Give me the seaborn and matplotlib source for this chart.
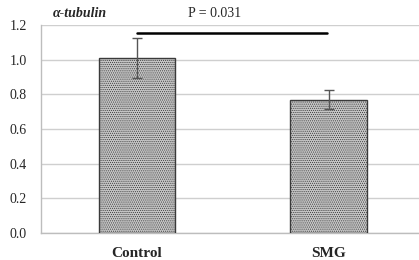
import matplotlib
matplotlib.use('Agg')
import matplotlib.pyplot as plt
import seaborn as sns
import pandas as pd

# Werte
gruppen = ["Control", "SMG"]
mittelwerte = [1.01, 0.77]
fehler = [0.115, 0.055]
p_text = "P = 0.031"
titel = "α-tubulin"
y_ticks = [0.0, 0.2, 0.4, 0.6, 0.8, 1.0, 1.2]

df = pd.DataFrame({"Gruppe": gruppen, "Wert": mittelwerte})

sns.set_style("white")
plt.rcParams['font.family'] = ['Liberation Serif', 'DejaVu Serif']
plt.rcParams['hatch.color'] = '#a0a0a0'
plt.rcParams['hatch.linewidth'] = 0.5

fig = plt.figure(figsize=(4.19, 2.6), dpi=100)
ax = fig.add_axes([41 / 419, 27 / 260, 378 / 419, 208 / 260])

sns.barplot(data=df, x="Gruppe", y="Wert", ax=ax, color='#c6c6c6',
            width=0.4, edgecolor='#3a3a3a', linewidth=1.0, hatch='........',
            saturation=1, errorbar=None, zorder=3)

# Fehlerbalken
ax.errorbar(range(len(gruppen)), mittelwerte, yerr=fehler, fmt='none',
            ecolor='#555555', elinewidth=1.0, capsize=3.5, capthick=1.0, zorder=4)

# Signifikanzlinie
ax.plot([0, 0.99], [1.155, 1.155], color='black', linewidth=1.8, zorder=5, clip_on=False)
ax.text(0.406, 1.23, p_text, ha='center', va='bottom', fontsize=10)
ax.text(-0.3, 1.23, titel, ha='center', va='bottom', fontsize=10,
        fontweight='bold', style='italic')

ax.set_ylim(0, 1.2)
ax.set_xlim(-0.5, 1.47)
ax.set_yticks(y_ticks)
ax.set_yticklabels([f"{t:.1f}" for t in y_ticks], fontsize=10)
ax.yaxis.grid(True, color='#cfcfcf', linewidth=1.0, zorder=0)
ax.set_axisbelow(True)
ax.set_xlabel("")
ax.set_ylabel("")
ax.set_xticks([0, 1])
ax.set_xticklabels(gruppen, fontsize=11, fontweight='bold')
ax.set_xticks([-0.5, 0.5], minor=True)
ax.tick_params(axis='x', which='major', length=0, pad=10)
ax.tick_params(axis='x', which='minor', length=5, color='#bdbdbd', direction='out')
ax.tick_params(axis='y', length=4, color='#bdbdbd', direction='out', pad=6)

for s in ['top', 'right']:
    ax.spines[s].set_visible(False)
for s in ['left', 'bottom']:
    ax.spines[s].set_color('#bdbdbd')
    ax.spines[s].set_linewidth(1.0)

fig.savefig("out.png", dpi=100)
